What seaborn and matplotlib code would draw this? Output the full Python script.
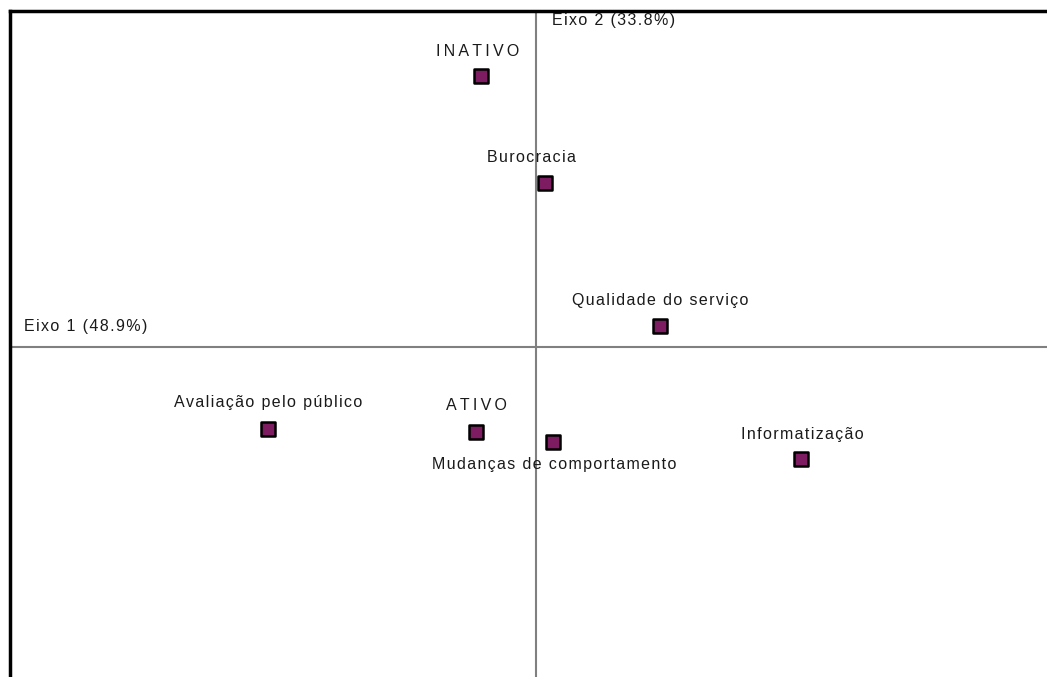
import matplotlib
matplotlib.use("Agg")
import matplotlib.pyplot as plt
import seaborn as sns
import pandas as pd

# ===============================
# DATA (correspondence analysis map)
# ===============================
labels = ["INATIVO", "Burocracia", "Qualidade do serviço",
          "Avaliação pelo público", "ATIVO",
          "Mudanças de comportamento", "Informatização"]
dim1 = [-0.22, 0.036, 0.496, -1.072, -0.24, 0.068, 1.06]
dim2 = [1.084, 0.656, 0.084, -0.328, -0.34, -0.38, -0.448]
# label offsets in pixels (dx, dy)
label_dx = [-3, -14, 0, 0, 0, 1, 1]
label_dy = [25, 26, 26, 27, 26, -22, 25]

axis1_label = "Eixo 1 (48.9%)"
axis2_label = "Eixo 2 (33.8%)"


def spaced(txt, sep):
    # the original renderer draws letters with extra tracking
    return sep.join(txt)


wide = {"INATIVO", "ATIVO"}
df = pd.DataFrame({"label": labels, "dim1": dim1, "dim2": dim2})

sns.set_style("white")
plt.rcParams['font.family'] = ['Liberation Sans', 'DejaVu Sans']

fig = plt.figure(figsize=(10.47, 6.77), dpi=100)
ax = fig.add_axes([10 / 1047, 0, 1037 / 1047, 666 / 677])

ax.axhline(0, color="#808080", lw=1.5, zorder=1)
ax.axvline(0, color="#808080", lw=1.5, zorder=1)

sns.scatterplot(data=df, x="dim1", y="dim2", marker="s", s=110,
                color="#7d1c60", edgecolor="black", linewidth=1.8, ax=ax, zorder=3)

for i, row in df.iterrows():
    sep = "\u2009" if row["label"] in wide else "\u200a"
    ax.annotate(spaced(row["label"], sep), (row["dim1"], row["dim2"]),
                xytext=(label_dx[i], label_dy[i]), textcoords="offset pixels",
                ha="center", va="center", fontsize=11.5, color="#1a1a1a")

ax.text(-2.048, 0.084, spaced(axis1_label, "\u200a"), ha="left", va="center",
        fontsize=11.5, color="#1a1a1a")
ax.text(0.064, 1.304, spaced(axis2_label, "\u200a"), ha="left", va="center",
        fontsize=11.5, color="#1a1a1a")

ax.set_xlim(-2.104, 2.044)
ax.set_ylim(-1.32, 1.344)
ax.set_xticks([])
ax.set_yticks([])
ax.set_xlabel("")
ax.set_ylabel("")
for side in ["right", "bottom"]:
    ax.spines[side].set_visible(False)
for side in ["left", "top"]:
    ax.spines[side].set_color("black")
    ax.spines[side].set_linewidth(2.5)

fig.savefig("out.png", dpi=100)
